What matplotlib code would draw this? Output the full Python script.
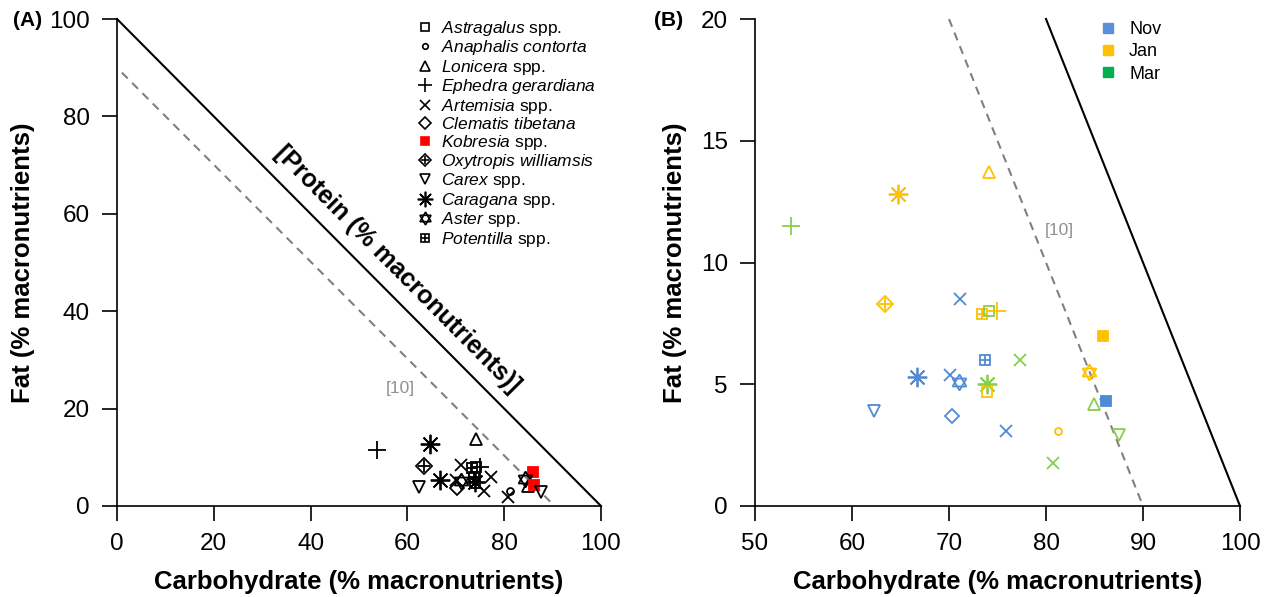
import matplotlib
matplotlib.use("Agg")
import matplotlib.pyplot as plt
from matplotlib.lines import Line2D
from matplotlib.legend_handler import HandlerTuple

plt.rcParams['font.family'] = ['Liberation Sans', 'DejaVu Sans']
plt.rcParams['mathtext.fontset'] = 'custom'
plt.rcParams['mathtext.rm'] = 'Liberation Sans'
plt.rcParams['mathtext.it'] = 'Liberation Sans:italic'

# data (panel B values, same points in panel A)
species = ['Lonicera', 'Caragana', 'Ephedra', 'Oxytropis', 'Artemisia',
           'Potentilla', 'Astragalus', 'Ephedra', 'Kobresia', 'Potentilla',
           'Artemisia', 'Caragana', 'Artemisia', 'Aster', 'Caragana',
           'Astragalus', 'Aster', 'Lonicera', 'Kobresia', 'Carex',
           'Clematis', 'Artemisia', 'Anaphalis', 'Carex', 'Artemisia']
month = ['Jan', 'Jan', 'Mar', 'Jan', 'Nov',
         'Jan', 'Mar', 'Jan', 'Jan', 'Nov',
         'Mar', 'Nov', 'Nov', 'Nov', 'Mar',
         'Jan', 'Jan', 'Mar', 'Nov', 'Nov',
         'Nov', 'Nov', 'Jan', 'Mar', 'Mar']
carb = [74.1, 64.7, 53.7, 63.4, 71.1,
        73.4, 74.1, 74.9, 85.9, 73.7,
        77.3, 66.7, 70.1, 71.0, 73.9,
        73.9, 84.4, 84.9, 86.2, 62.3,
        70.3, 75.9, 81.2, 87.5, 80.7]
fat = [13.7, 12.8, 11.5, 8.3, 8.5,
       7.9, 8.0, 8.0, 7.0, 6.0,
       6.0, 5.3, 5.4, 5.1, 5.0,
       4.7, 5.5, 4.2, 4.3, 3.9,
       3.7, 3.1, 3.1, 2.9, 1.75]

legend_order = ['Astragalus', 'Anaphalis', 'Lonicera', 'Ephedra', 'Artemisia',
                'Clematis', 'Kobresia', 'Oxytropis', 'Carex', 'Caragana',
                'Aster', 'Potentilla']
legend_labels = [r'$\it{Astragalus}$ spp.', r'$\it{Anaphalis\ contorta}$',
                 r'$\it{Lonicera}$ spp.', r'$\it{Ephedra\ gerardiana}$',
                 r'$\it{Artemisia}$ spp.', r'$\it{Clematis\ tibetana}$',
                 r'$\it{Kobresia}$ spp.', r'$\it{Oxytropis\ williamsis}$',
                 r'$\it{Carex}$ spp.', r'$\it{Caragana}$ spp.',
                 r'$\it{Aster}$ spp.', r'$\it{Potentilla}$ spp.']

months = ['Nov', 'Jan', 'Mar']
month_colors = {'Nov': '#4F8AD6', 'Jan': '#FFC000', 'Mar': '#86CF4A'}
month_legend_colors = ['#5B8FDB', '#FFC000', '#00B050']

# marker parts per species: (marker, size, filled)
marker_parts = {
    'Astragalus': [('s', 7, False)],
    'Anaphalis': [('o', 5, False)],
    'Lonicera': [('^', 9, False)],
    'Ephedra': [('+', 13, False)],
    'Artemisia': [('x', 9, False)],
    'Clematis': [('D', 7.5, False)],
    'Kobresia': [('s', 7, True)],
    'Oxytropis': [('D', 8, False), ('+', 8, False)],
    'Carex': [('v', 9, False)],
    'Caragana': [((8, 2, 0), 14, False)],
    'Aster': [((3, 0, 0), 11.5, False), ((3, 0, 180), 11.5, False)],
    'Potentilla': [('s', 7.5, False), ('+', 7.5, False)],
}


def draw_point(ax, x, y, sp, color):
    for m, ms, filled in marker_parts[sp]:
        ax.plot([x], [y], linestyle='none', marker=m, markersize=ms,
                markeredgecolor=color, markerfacecolor=color if filled else 'none',
                markeredgewidth=1.3, zorder=3)


def style_axes(ax):
    for s in ['top', 'right']:
        ax.spines[s].set_visible(False)
    for s in ['left', 'bottom']:
        ax.spines[s].set_linewidth(1.2)
    ax.tick_params(direction='out', length=10.5, width=1.2, labelsize=17.5, pad=9)


fig = plt.figure(figsize=(12.7, 5.97), dpi=100)
W, H = 1270, 597

# panel A
axA = fig.add_axes([117 / W, (H - 506) / H, 484 / W, 487 / H])
axA.set_xlim(0, 100)
axA.set_ylim(0, 100)
style_axes(axA)
axA.set_xticks([0, 20, 40, 60, 80, 100])
axA.set_yticks([0, 20, 40, 60, 80, 100])
axA.plot([0, 100], [100, 0], color='black', lw=1.5, clip_on=False)
axA.plot([1, 89.5], [89, 0.9], color='#808080', lw=1.5, ls=(0, (4, 3)), clip_on=False)
axA.text(57.9, 48.6, '[Protein (% macronutrients)]', rotation=-45.2, rotation_mode='anchor',
         ha='center', va='center', fontsize=18, fontweight='bold')
axA.text(58.5, 24.2, '[10]', color='#909090', fontsize=12.5, ha='center', va='center')
for x, y, sp in zip(carb, fat, species):
    draw_point(axA, x, y, sp, 'red' if sp == 'Kobresia' else 'black')

handles = []
for sp in legend_order:
    c = 'red' if sp == 'Kobresia' else 'black'
    parts = tuple(Line2D([], [], linestyle='none', marker=m, markersize=ms * 0.8,
                         markeredgecolor=c, markerfacecolor=c if f else 'none',
                         markeredgewidth=1.2)
                  for m, ms, f in marker_parts[sp])
    handles.append(parts)
axA.legend(handles, legend_labels, loc='upper left', bbox_to_anchor=(0.618, 1.0),
           frameon=False, fontsize=12.5, handlelength=1.0, handletextpad=0.42,
           labelspacing=0.025, borderpad=0, borderaxespad=0,
           handler_map={tuple: HandlerTuple(ndivide=1, pad=0)})
axA.set_xlabel('Carbohydrate (% macronutrients)', fontsize=18.5, fontweight='bold', labelpad=11)
axA.set_ylabel('Fat (% macronutrients)', fontsize=18.5, fontweight='bold', labelpad=10)
fig.text(28 / W, 1 - 21 / H, '(A)', fontsize=15, fontweight='bold', ha='center', va='center')

# panel B
axB = fig.add_axes([755 / W, (H - 506) / H, 485 / W, 487 / H])
axB.set_xlim(50, 100)
axB.set_ylim(0, 20)
style_axes(axB)
axB.set_xticks([50, 60, 70, 80, 90, 100])
axB.set_yticks([0, 5, 10, 15, 20])
axB.plot([80, 100], [20, 0], color='black', lw=1.5, clip_on=False)
axB.plot([70, 90], [20, 0], color='#808080', lw=1.5, ls=(0, (4, 3)), clip_on=False)
axB.text(81.4, 11.3, '[10]', color='#909090', fontsize=12.5, ha='center', va='center')
for x, y, sp, mo in zip(carb, fat, species, month):
    draw_point(axB, x, y, sp, month_colors[mo])

mhandles = [Line2D([], [], linestyle='none', marker='s', markersize=7,
                   markerfacecolor=c, markeredgecolor=c) for c in month_legend_colors]
axB.legend(mhandles, months, loc='upper left', bbox_to_anchor=(0.709, 0.996),
           frameon=False, fontsize=13, handlelength=1.0, handletextpad=0.67,
           labelspacing=0.3, borderpad=0, borderaxespad=0)
axB.set_xlabel('Carbohydrate (% macronutrients)', fontsize=18.5, fontweight='bold', labelpad=11)
axB.set_ylabel('Fat (% macronutrients)', fontsize=18.5, fontweight='bold', labelpad=10)
fig.text(669 / W, 1 - 21 / H, '(B)', fontsize=15, fontweight='bold', ha='center', va='center')

fig.savefig('out.png', dpi=100)
